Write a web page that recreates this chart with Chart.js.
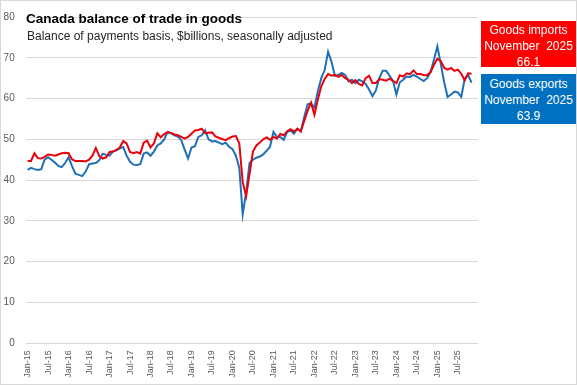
<!DOCTYPE html>
<html>
<head>
<meta charset="utf-8">
<script src="https://cdn.jsdelivr.net/npm/chart.js@4"></script>
<style>
  body { margin: 0; background: #fff; }
  #wrap { position: relative; width: 577px; height: 385px; overflow: hidden; }
  #frame { position: absolute; left: 0; top: 0; width: 577px; height: 385px; box-sizing: border-box; border: 1px solid #d9d9d9; pointer-events: none; }
  .title { position: absolute; left: 26px; top: 11px; font: bold 13.5px "Liberation Sans", Arial, sans-serif; color: #000; white-space: nowrap; }
  .subtitle { position: absolute; left: 27px; top: 29px; font: 12px "Liberation Sans", Arial, sans-serif; color: #262626; white-space: nowrap; }
  .box { position: absolute; left: 481px; width: 95px; color: #fff; text-align: center; font: 12px "Liberation Sans", Arial, sans-serif; line-height: 16px; box-sizing: border-box; }
  .box.imp { top: 21px; height: 46px; background: #ff0000; padding-top: 1px; }
  .box.exp { top: 74px; height: 50px; background: #0070c0; padding-top: 2px; }
</style>
</head>
<body>
<div id="wrap">
  <canvas id="tradeChart" width="577" height="385"></canvas>
  <div class="title">Canada balance of trade in goods</div>
  <div class="subtitle">Balance of payments basis, $billions, seasonally adjusted</div>
  <div class="box imp">Goods imports<br>November&nbsp; 2025<br>66.1</div>
  <div class="box exp">Goods exports<br>November&nbsp; 2025<br>63.9</div>
  <div id="frame"></div>
</div>
<script>
// monthly, Jan-15 .. Nov-25
var monthNames = ["Jan", "Feb", "Mar", "Apr", "May", "Jun", "Jul", "Aug", "Sep", "Oct", "Nov", "Dec"];
var months = [];
for (var yr = 15; yr <= 25; yr++) {
  for (var m = 0; m < 12; m++) {
    if (yr === 25 && m > 10) break;
    months.push(monthNames[m] + "-" + yr);
  }
}

// $billions
var imports = [
  44.7, 44.7, 46.6, 45.4, 45.3, 45.7, 46.3, 46.2, 46.0, 46.3,
  46.6, 46.7, 46.6, 45.1, 44.7, 44.7, 44.7, 44.6, 45.0, 46.0,
  47.9, 45.9, 45.3, 45.6, 46.9, 47.0, 47.4, 48.0, 49.6, 49.0,
  46.9, 46.6, 46.9, 46.5, 49.2, 49.7, 48.0, 49.0, 51.5, 50.5,
  51.3, 51.8, 51.6, 51.2, 51.0, 50.6, 50.2, 50.6, 51.4, 52.2,
  52.3, 52.6, 51.5, 51.6, 51.7, 50.7, 50.4, 50.1, 49.8, 50.3,
  50.7, 50.8, 49.0, 39.5, 36.1, 41.5, 47.0, 48.5, 49.2, 50.0,
  50.5, 49.9, 50.6, 50.2, 51.3, 51.0, 52.0, 52.5, 51.9, 52.6,
  51.9, 54.5, 57.0, 59.0, 56.0, 59.8, 63.0, 64.8, 66.0, 65.6,
  65.8, 65.3, 65.8, 65.0, 64.6, 63.8, 64.5, 63.6, 63.2, 65.0,
  65.6, 63.8, 63.8, 64.8, 64.6, 64.4, 64.9, 64.3, 63.8, 65.7,
  65.4, 66.2, 66.0, 66.9, 66.0, 66.0, 65.8, 65.7, 66.5, 68.3,
  69.8, 69.2, 67.5, 67.1, 67.5, 66.8, 67.1, 66.1, 64.5, 66.2,
  66.1
];
var exports = [
  42.5, 43.0, 42.7, 42.5, 42.7, 45.0, 45.6, 45.0, 44.3, 43.5,
  43.2, 44.2, 45.6, 43.5, 41.6, 41.3, 41.0, 42.1, 43.9, 44.1,
  44.2, 44.9, 46.5, 46.2, 46.0, 47.0, 47.3, 47.8, 48.1, 46.0,
  44.5, 43.8, 43.7, 43.9, 46.5, 46.8, 46.0, 47.0, 48.5, 49.0,
  50.0, 51.8, 51.5, 51.0, 50.7, 49.8, 47.5, 45.3, 48.0, 48.3,
  50.6, 51.0, 52.2, 50.0, 49.5, 49.6, 49.2, 48.8, 49.2, 48.2,
  47.6, 46.0, 43.0, 31.6, 37.0, 44.2, 45.0, 45.5, 45.8, 46.3,
  47.2, 48.2, 51.8, 50.6, 50.6, 49.9, 51.8, 52.2, 51.4, 52.6,
  52.0, 55.4, 58.6, 58.8, 57.8, 61.8, 65.0, 67.0, 71.5, 69.0,
  65.6, 65.8, 66.3, 65.8, 64.2, 64.6, 63.8, 64.6, 64.2, 63.6,
  62.2, 60.6, 62.0, 65.0, 66.8, 66.8, 65.6, 64.4, 61.0, 64.0,
  64.6, 65.4, 65.3, 65.8, 65.4, 64.8, 64.3, 65.0, 66.5, 69.5,
  72.8, 68.5, 64.0, 60.4, 61.0, 61.7, 61.5, 60.4, 64.8, 65.8,
  63.9
];
var yTicks = [0, 10, 20, 30, 40, 50, 60, 70, 80];

function toPoints(arr) {
  return arr.map(function (v, i) { return { x: i, y: v }; });
}

var ctx = document.getElementById("tradeChart").getContext("2d");
new Chart(ctx, {
  type: "line",
  data: {
    datasets: [
      {
        label: "Goods imports",
        data: toPoints(imports),
        borderColor: "#e8000b",
        borderWidth: 2,
        pointRadius: 0,
        tension: 0,
        fill: false,
      },
      {
        label: "Goods exports",
        data: toPoints(exports),
        borderColor: "#1f70b8",
        borderWidth: 2,
        pointRadius: 0,
        tension: 0,
        fill: false,
      },
    ],
  },
  options: {
    responsive: false,
    animation: false,
    layout: {
      padding: { top: 10.5, right: 99, left: 0, bottom: 0 },
    },
    plugins: {
      legend: { display: false },
      tooltip: { enabled: false },
    },
    scales: {
      x: {
        type: "linear",
        min: -0.55,
        max: 131.9,
        grid: { display: false, drawTicks: false },
        border: { display: false },
        afterBuildTicks: function (scale) {
          scale.ticks = months
            .map(function (m, i) { return i; })
            .filter(function (i) { return i % 6 === 0; })
            .map(function (i) { return { value: i }; });
        },
        afterFit: function (scale) {
          scale.height = 41.7;
        },
        ticks: {
          autoSkip: false,
          minRotation: 90,
          maxRotation: 90,
          padding: 7,
          color: "#595959",
          font: { family: "'Liberation Sans Narrow', 'Liberation Sans'", size: 9 },
          callback: function (value) {
            return months[value];
          },
        },
      },
      y: {
        min: 0,
        max: 80,
        afterBuildTicks: function (scale) {
          scale.ticks = yTicks.map(function (v) { return { value: v }; });
        },
        afterFit: function (scale) {
          scale.width = 25.7;
        },
        grid: { color: "#d9d9d9", drawTicks: false },
        border: { display: false },
        ticks: {
          padding: 11,
          color: "#595959",
          font: { family: "'Liberation Sans'", size: 10 },
        },
      },
    },
  },
});
</script>
</body>
</html>
